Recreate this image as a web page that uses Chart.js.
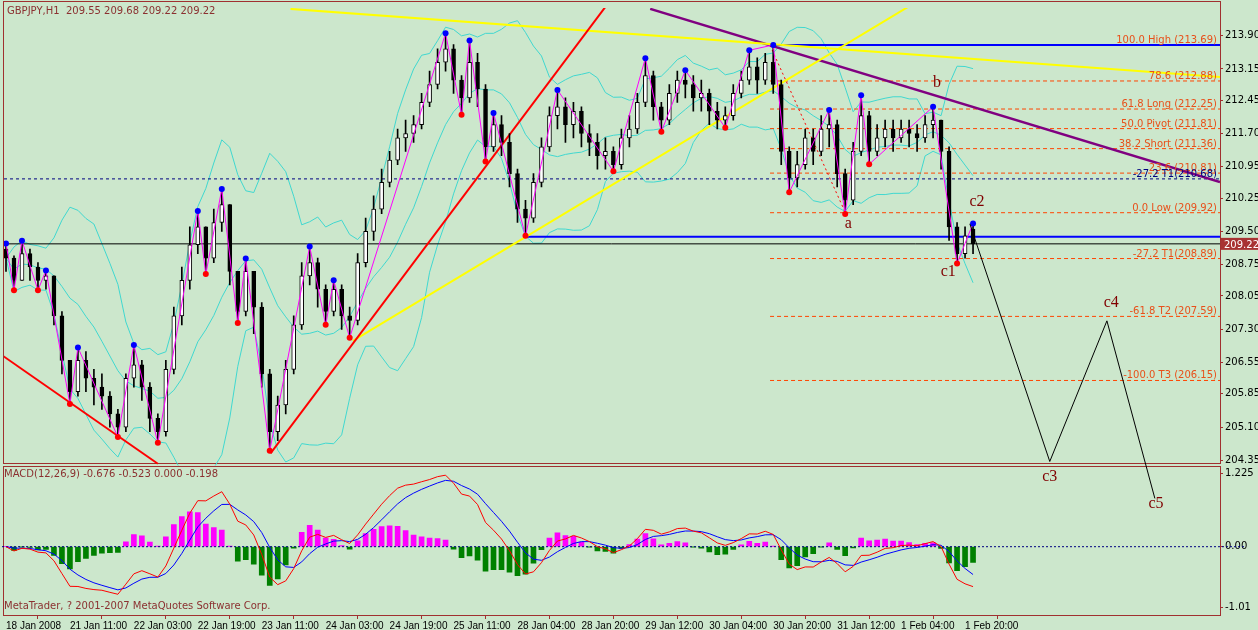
<!DOCTYPE html>
<html><head><meta charset="utf-8">
<script src="https://cdn.jsdelivr.net/npm/chart.js@4/dist/chart.umd.min.js"></script>
<style>html,body{margin:0;padding:0;background:#cce7cc;overflow:hidden}</style>
</head><body>
<canvas id="c" width="1258" height="630" style="width:1258px;height:630px"></canvas>
<script>
// GBPJPY H1, read as 2-hour candles (index i)
const closes = [208.9,208.4,209.0,208.7,208.4,208.5,207.6,206.6,205.9,206.6,206.2,206.0,205.8,205.4,205.1,206.2,206.5,206.0,205.3,205.0,
  206.4,207.6,208.4,209.2,209.6,208.9,209.7,210.1,208.6,207.7,208.6,207.8,206.3,205.0,205.6,206.4,207.4,208.5,208.8,208.2,
  207.7,208.2,207.6,207.5,208.8,209.5,210.0,210.6,211.1,211.6,211.7,211.9,212.4,212.8,213.3,213.6,212.9,212.5,213.3,212.7,
  211.4,211.9,211.5,210.8,210.0,209.8,210.6,211.4,212.1,212.3,211.9,212.2,211.7,211.5,211.2,211.3,211.0,211.6,211.8,212.4,
  213.0,212.3,212.0,212.6,212.9,212.8,212.5,212.6,212.2,212.0,212.1,212.6,212.9,213.2,212.9,213.3,212.8,211.3,210.7,211.0,
  211.6,211.3,211.8,211.9,210.8,210.2,211.3,212.1,211.3,211.6,211.8,211.6,211.8,211.7,211.6,211.9,212.0,211.3,209.6,209.0,209.4,209.22];
const highs = [209.25,208.95,209.29,209.1,208.8,208.62,208.5,207.7,206.6,206.89,206.8,206.4,206.3,205.9,205.5,206.3,206.95,206.6,206.1,205.4,
  206.6,207.8,208.7,209.6,209.96,209.6,210.0,210.45,210.1,208.6,208.89,208.6,207.9,206.4,205.8,206.6,207.6,208.8,209.16,208.9,
  208.3,208.4,208.3,207.8,209.0,209.8,210.3,210.9,211.3,211.8,212.0,212.1,212.6,213.1,213.6,213.95,213.7,213.0,213.79,213.5,
  212.8,212.16,212.1,211.7,210.9,210.2,210.8,211.6,212.3,212.68,212.5,212.4,212.3,211.9,211.7,211.6,211.4,211.8,212.1,212.6,
  213.39,213.1,212.4,212.8,213.1,213.12,213.0,212.9,212.7,212.4,212.3,212.8,213.1,213.57,213.4,213.5,213.68,212.9,211.4,211.3,
  211.8,211.8,212.1,212.23,212.0,210.9,211.5,212.56,212.2,211.9,212.0,212.0,212.0,212.0,211.9,212.1,212.3,212.0,211.4,209.7,209.6,209.68];
const lows = [208.6,208.18,208.4,208.4,208.18,208.2,207.4,206.3,205.62,205.8,205.9,205.6,205.5,205.1,204.88,205.0,206.0,205.7,205.0,204.75,
  204.9,206.3,207.4,208.2,209.0,208.54,208.8,209.5,208.3,207.44,207.6,207.2,206.0,204.57,204.8,205.4,206.3,207.3,208.3,207.8,
  207.4,207.6,207.3,207.11,207.4,208.7,209.3,209.9,210.5,211.0,211.3,211.5,211.8,212.3,212.7,213.1,212.6,212.12,212.4,212.3,
  211.07,211.3,211.2,210.5,209.7,209.4,209.7,210.5,211.3,211.8,211.5,211.6,211.4,211.2,210.9,210.9,210.85,210.9,211.4,211.7,
  212.3,212.0,211.74,211.9,212.4,212.5,212.2,212.2,211.9,211.8,211.83,212.0,212.5,212.8,212.6,212.8,212.6,211.0,210.38,210.5,
  210.9,211.0,211.2,211.4,210.5,209.89,210.1,211.2,211.01,211.2,211.4,211.3,211.5,211.4,211.3,211.5,211.6,210.9,209.3,208.78,208.9,209.0];
const firstOpen = 209.1, lastOpen = 209.55;

// zigzag pivots [index, price, isHigh]
const zigIdx = [0,1,2,4,5,8,9,14,16,19,24,25,27,29,30,33,38,40,41,43,55,57,58,60,61,65,69,76,80,82,85,90,93,96,98,103,105,107,108,116,119,121];
const zigPx  = [209.23,208.18,209.29,208.18,208.62,205.62,206.89,204.88,206.95,204.75,209.96,208.54,210.45,207.44,208.89,204.57,209.16,207.40,208.40,207.11,
  213.95,212.12,213.79,211.07,212.16,209.40,212.68,210.85,213.39,211.74,213.12,211.83,213.57,213.69,210.38,212.23,209.89,212.56,211.01,212.30,208.78,209.68];
const zigHigh = [1,0,1,0,1,0,1,0,1,0,1,0,1,0,1,0,1,0,1,0,1,0,1,0,1,0,1,0,1,0,1,0,1,1,0,1,0,1,0,1,0,1];

// fibonacci levels
const fibPx = [213.69,212.88,212.25,211.81,211.36,210.81,209.92,208.89,207.59,206.15];
const fibTxt = ['100.0 High (213.69)','78.6 (212.88)','61.8 Long (212.25)','50.0 Pivot (211.81)','38.2 Short (211.36)','23.6 (210.81)',
  '0.0 Low (209.92)','-27.2 T1(208.89)','-61.8 T2 (207.59)','-100.0 T3 (206.15)'];

// projected wave
const waveIdx = [120.6,130.6,137.75,143.75];
const wavePx = [209.67,204.33,207.49,203.50];
const waveLbl = [['a',105.4,209.58],['b',116.5,212.74],['c1',117.9,208.49],['c2',121.5,210.07],['c3',130.6,203.90],['c4',138.3,207.80],['c5',143.9,203.28]];

const priceTicks = [213.90,213.15,212.45,211.70,210.95,210.25,209.50,208.75,208.05,207.30,206.55,205.85,205.10,204.35];
const macdTicks = [1.225,0.00,-1.01];
const timeLabels = ['18 Jan 2008','21 Jan 11:00','22 Jan 03:00','22 Jan 19:00','23 Jan 11:00','24 Jan 03:00','24 Jan 19:00','25 Jan 11:00',
  '28 Jan 04:00','28 Jan 20:00','29 Jan 12:00','30 Jan 04:00','30 Jan 20:00','31 Jan 12:00','1 Feb 04:00','1 Feb 20:00'];

const opens = closes.map((c, i) => i === 0 ? firstOpen : (i === closes.length - 1 ? lastOpen : closes[i - 1]));

function ema(arr, n) {
  const k = 2 / (n + 1); const out = []; let e = arr[0];
  arr.forEach(v => { e = v * k + e * (1 - k); out.push(e); });
  return out;
}
const fast = ema(closes, 6), slow = ema(closes, 13);
const macd = closes.map((c, i) => fast[i] - slow[i]);
const signal = ema(macd, 5);
const hist = macd.map((m, i) => (m - signal[i]) * 1.3);

const bbMid = [], bbUp = [], bbLo = [];
closes.forEach((c, i) => {
  const s = closes.slice(Math.max(0, i - 9), i + 1);
  const m = s.reduce((a, b) => a + b, 0) / s.length;
  const sd = Math.sqrt(s.reduce((a, b) => a + (b - m) * (b - m), 0) / s.length);
  bbMid.push({x: i, y: m}); bbUp.push({x: i, y: m + 2 * sd}); bbLo.push({x: i, y: m - 2 * sd});
});

const seg = (pts, color, w, extra) => Object.assign({
  type: 'line', data: pts.map(p => ({x: p[0], y: p[1]})), borderColor: color, borderWidth: w,
  pointRadius: 0, yAxisID: 'y', tension: 0
}, extra || {});

const datasets = [
  seg(waveIdx.map((x, i) => [x, wavePx[i]]), '#000', 1, {clip: false}),
  {type: 'line', data: zigIdx.map((x, i) => ({x, y: zigPx[i]})), borderColor: '#ff00ff', borderWidth: 1,
    pointRadius: 3, pointBorderWidth: 0, pointBackgroundColor: zigHigh.map(h => h ? '#0000ff' : '#ff0000'), yAxisID: 'y'},
  {type: 'bar', data: closes.map((c, i) => ({x: i, y: [opens[i], c]})), grouped: false, barThickness: 4,
    backgroundColor: closes.map((c, i) => c >= opens[i] ? '#ffffff' : '#000000'), borderColor: '#000', borderWidth: 1,
    borderSkipped: false, yAxisID: 'y'},
  {type: 'bar', data: closes.map((c, i) => ({x: i, y: [lows[i], highs[i]]})), grouped: false, barThickness: 1,
    backgroundColor: '#000', yAxisID: 'y'},
  seg([[95.6,213.68],[105.1,209.89]], '#ff0000', 1, {borderDash: [2, 3]}),
  seg([[-0.6,206.73],[19,204.28]], '#ff0000', 2),
  seg([[33.1,204.51],[75.1,214.57]], '#ff0000', 2),
  seg([[43.4,207.04],[113.1,214.57]], '#ffff00', 2),
  seg([[35.6,214.50],[151.9,212.97]], '#ffff00', 2),
  seg([[80.6,214.50],[151.9,210.61]], '#800080', 2.5),
  seg([[95.6,213.69],[151.9,213.69]], '#0000ff', 2),
  seg([[65,209.38],[151.9,209.38]], '#0000ff', 2),
  seg([[-1,209.22],[151.9,209.22]], '#000', 1),
  seg([[-1,210.68],[151.9,210.68]], '#000080', 1, {borderDash: [3, 3]}),
  ...fibPx.map(p => seg([[95.6,p],[151.9,p]], '#ff4500', 1, {borderDash: [4, 3]})),
  seg(bbUp.map(p => [p.x, p.y]), '#40d8d0', 1),
  seg(bbMid.map(p => [p.x, p.y]), '#40d8d0', 1),
  seg(bbLo.map(p => [p.x, p.y]), '#40d8d0', 1),
  // MACD panel
  {type: 'line', data: macd.map((v, i) => ({x: i, y: v})), borderColor: '#ff0000', borderWidth: 1, pointRadius: 0, yAxisID: 'y2'},
  {type: 'line', data: signal.map((v, i) => ({x: i, y: v})), borderColor: '#0000ff', borderWidth: 1, pointRadius: 0, yAxisID: 'y2'},
  {type: 'line', data: [{x: -1, y: 0}, {x: 155, y: 0}], borderColor: '#000080', borderWidth: 1, borderDash: [2, 2], pointRadius: 0, yAxisID: 'y2', clip: false},
  {type: 'bar', data: hist.map((v, i) => ({x: i, y: v})), grouped: false, barThickness: 5,
    backgroundColor: hist.map(v => v >= 0 ? '#ff00ff' : '#008000'), yAxisID: 'y2'}
];

const decor = {
  id: 'decor',
  beforeDraw(chart) {
    const ctx = chart.ctx;
    ctx.fillStyle = '#cce7cc'; ctx.fillRect(0, 0, chart.width, chart.height);
  },
  beforeDatasetsDraw(chart) {
    const ctx = chart.ctx;
    ctx.fillStyle = '#cce7cc'; ctx.fillRect(0, 463, 1258, 3);
    ctx.strokeStyle = '#a03030'; ctx.lineWidth = 1;
    ctx.strokeRect(3.5, 1.5, 1217, 462); ctx.strokeRect(3.5, 466.5, 1217, 149);
  },
  afterDatasetsDraw(chart) {
    const ctx = chart.ctx, x = chart.scales.x, y = chart.scales.y;
    ctx.font = '10px "DejaVu Sans", sans-serif'; ctx.textAlign = 'right'; ctx.textBaseline = 'alphabetic';
    ctx.fillStyle = '#e8501a';
    fibPx.forEach((p, i) => ctx.fillText(fibTxt[i], 1217, y.getPixelForValue(p) - 2));
    ctx.fillStyle = '#000080';
    ctx.fillText('-27.2 T1(210.68)', 1217, y.getPixelForValue(210.68) - 2);
    ctx.font = '16px "Liberation Serif", serif'; ctx.textAlign = 'center'; ctx.fillStyle = '#800000';
    waveLbl.forEach(l => ctx.fillText(l[0], x.getPixelForValue(l[1]), y.getPixelForValue(l[2])));
    ctx.textAlign = 'left'; ctx.font = '10px "DejaVu Sans", sans-serif'; ctx.fillStyle = '#8b3030';
    ctx.fillText('GBPJPY,H1  209.55 209.68 209.22 209.22', 7, 14);
    ctx.fillText('MACD(12,26,9) -0.676 -0.523 0.000 -0.198', 4, 477);
    ctx.fillText('MetaTrader, ? 2001-2007 MetaQuotes Software Corp.', 4, 609);
    const py = y.getPixelForValue(209.22);
    ctx.fillStyle = '#a83232'; ctx.fillRect(1221, py - 6, 37, 12);
    ctx.fillStyle = '#fff'; ctx.fillText('209.22', 1224, py + 4);
  }
};

new Chart(document.getElementById('c'), {
  type: 'bar',
  data: {datasets},
  plugins: [decor],
  options: {
    responsive: false, animation: false, events: [],
    layout: {padding: {left: 3, top: 2, right: 0, bottom: 0}},
    plugins: {legend: {display: false}, tooltip: {enabled: false}},
    scales: {
      x: {type: 'linear', offset: false, min: -0.25, max: 151.9,
        afterBuildTicks: s => { s.ticks = timeLabels.map((t, k) => ({value: 8 * k})); },
        afterFit: s => { s.height = 15; },
        ticks: {callback: (v, k) => timeLabels[k], align: 'start', autoSkip: false, maxRotation: 0,
          color: '#000', font: {size: 10, family: 'Liberation Sans'}, padding: 1},
        grid: {drawOnChartArea: false, color: '#a03030', tickLength: 4}, border: {color: '#a03030'}},
      y: {type: 'linear', position: 'right', stack: 'p', stackWeight: 462, min: 204.24, max: 214.52, offset: false,
        afterBuildTicks: s => { s.ticks = priceTicks.map(v => ({value: v})); },
        afterFit: s => { s.width = 38; },
        ticks: {callback: v => v.toFixed(2), color: '#000', font: {size: 10, family: 'DejaVu Sans'}, padding: 2},
        grid: {drawOnChartArea: false, color: '#a03030', tickLength: 3}, border: {color: '#a03030'}},
      y2: {type: 'linear', position: 'right', stack: 'p', stackWeight: 151, min: -1.142, max: 1.358, offset: false,
        afterBuildTicks: s => { s.ticks = macdTicks.map(v => ({value: v})); },
        afterFit: s => { s.width = 38; },
        ticks: {callback: v => v === 0 ? '0.00' : String(v), color: '#000', font: {size: 10, family: 'DejaVu Sans'}, padding: 2},
        grid: {drawOnChartArea: false, color: '#a03030', tickLength: 3}, border: {color: '#a03030'}}
    }
  }
});
</script>
</body></html>
